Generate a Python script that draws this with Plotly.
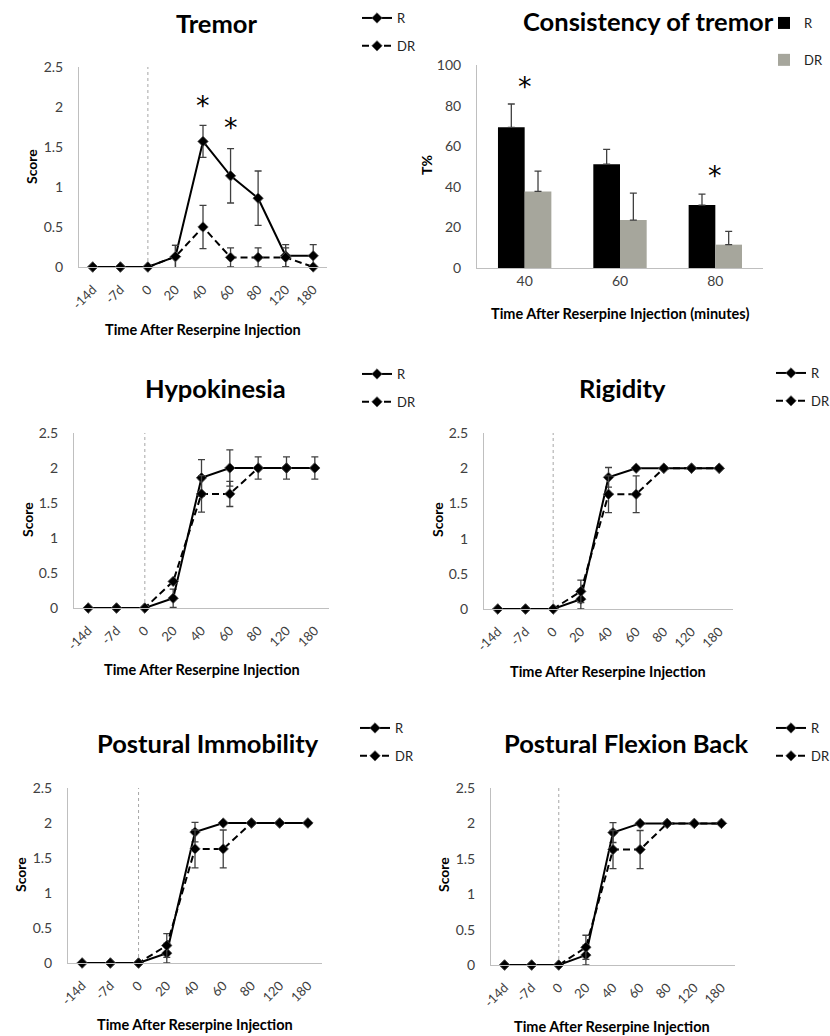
import plotly.graph_objects as go

W, H = 830, 1036
FONT = "Lato"
AXC = "#bfbfbf"
TICKC = "#404040"
ERRC = "#404040"

# ---------------- data ----------------
cats = ["-14d", "-7d", "0", "20", "40", "60", "80", "120", "180"]

tremor_r = [0, 0, 0, 0.13, 1.57, 1.14, 0.86, 0.14, 0.14]
tremor_r_err = [0, 0, 0, 0.14, 0.20, 0.34, 0.34, 0.14, 0.14]
tremor_dr = [0, 0, 0, 0.13, 0.50, 0.12, 0.12, 0.12, 0]
tremor_dr_err = [0, 0, 0, 0.14, 0.27, 0.12, 0.12, 0.12, 0]
tremor_sig_x = ["40", "60"]
tremor_sig_y = [2.07, 1.80]

hypo_r = [0, 0, 0, 0.14, 1.86, 2.0, 2.0, 2.0, 2.0]
hypo_r_err = [0, 0, 0, 0.13, 0.26, 0.26, 0.16, 0.16, 0.16]
hypo_dr = [0, 0, 0, 0.38, 1.63, 1.63, 2.0, 2.0, 2.0]
hypo_dr_err = [0, 0, 0, 0, 0.26, 0.18, 0, 0, 0]

rig_r = [0, 0, 0, 0.14, 1.87, 2.0, 2.0, 2.0, 2.0]
rig_r_err = [0, 0, 0, 0.14, 0.14, 0, 0, 0, 0]
rig_dr = [0, 0, 0, 0.25, 1.63, 1.63, 2.0, 2.0, 2.0]
rig_dr_err = [0, 0, 0, 0.16, 0.26, 0.26, 0, 0, 0]

pim_r = [0, 0, 0, 0.14, 1.87, 2.0, 2.0, 2.0, 2.0]
pim_r_err = [0, 0, 0, 0.14, 0.14, 0, 0, 0, 0]
pim_dr = [0, 0, 0, 0.25, 1.63, 1.63, 2.0, 2.0, 2.0]
pim_dr_err = [0, 0, 0, 0.17, 0.27, 0.27, 0, 0, 0]

pfb_r = [0, 0, 0, 0.14, 1.87, 2.0, 2.0, 2.0, 2.0]
pfb_r_err = [0, 0, 0, 0.14, 0.14, 0, 0, 0, 0]
pfb_dr = [0, 0, 0, 0.25, 1.63, 1.63, 2.0, 2.0, 2.0]
pfb_dr_err = [0, 0, 0, 0.17, 0.27, 0.27, 0, 0, 0]

bar_cats = ["40", "60", "80"]
cons_r = [69.3, 51.1, 31.0]
cons_r_err = [11.5, 7.3, 5.4]
cons_dr = [37.7, 23.6, 11.5]
cons_dr_err = [10.0, 13.3, 6.5]
cons_sig_x = ["40", "80"]
cons_sig_y = [91, 47]

y_ticks = [0, 0.5, 1, 1.5, 2, 2.5]
bar_ticks = [0, 20, 40, 60, 80, 100]
injection_cat = "0"


def fx(p):
    return p / W


def fy(p):
    return 1 - p / H


def axid(n):
    return "" if n == 1 else str(n)


fig = go.Figure()
annotations = []
shapes = []
layout = {}

TITLE_SIZE = 25.5
AXT_SIZE = 14.5

line_panels = [
    dict(n=1, title="Tremor", r=tremor_r, re=tremor_r_err, dr=tremor_dr, de=tremor_dr_err,
         dom=(79, 327, 67, 267), title_xy=(216, 23), leg=(357, 3), gap=8,
         ytitle=(32, 167), xtitle=(203, 330), sig=(tremor_sig_x, tremor_sig_y)),
    dict(n=3, title="Hypokinesia", r=hypo_r, re=hypo_r_err, dr=hypo_dr, de=hypo_dr_err,
         dom=(74, 329, 433, 608), title_xy=(215, 388), leg=(357, 359), gap=8,
         ytitle=(27, 520), xtitle=(202, 669), sig=None),
    dict(n=4, title="Rigidity", r=rig_r, re=rig_r_err, dr=rig_dr, de=rig_dr_err,
         dom=(484, 733, 433, 609), title_xy=(622, 388), leg=(771, 358), gap=8,
         ytitle=(437, 520), xtitle=(608, 671), sig=None),
    dict(n=5, title="Postural Immobility", r=pim_r, re=pim_r_err, dr=pim_dr, de=pim_dr_err,
         dom=(68, 322, 788, 963), title_xy=(208, 743), leg=(355, 713), gap=8,
         ytitle=(20, 875), xtitle=(195, 1024), sig=None),
    dict(n=6, title="Postural Flexion Back", r=pfb_r, re=pfb_r_err, dr=pfb_dr, de=pfb_dr_err,
         dom=(491, 735, 788, 965), title_xy=(626, 743), leg=(771, 713), gap=8,
         ytitle=(443, 875), xtitle=(612, 1026), sig=None),
]

for p in line_panels:
    n = p["n"]
    s = axid(n)
    leg = "legend" + s
    for name, ys, es, dash in [("R", p["r"], p["re"], "solid"), ("DR", p["dr"], p["de"], "7px,4px")]:
        fig.add_trace(go.Scatter(
            x=cats, y=ys, name=name, mode="lines+markers",
            line=dict(color="black", width=2, dash=dash),
            marker=dict(symbol="diamond", size=8, color="black", line=dict(color="#555", width=0.8)),
            error_y=dict(type="data", array=es, color=ERRC, thickness=1.3, width=3.5),
            cliponaxis=False, xaxis="x" + s, yaxis="y" + s,
            legend=leg, legendgroup=f"g{n}{name}", hoverinfo="skip"))
    x0, x1, yt, yb = p["dom"]
    layout["xaxis" + s] = dict(
        domain=[fx(x0), fx(x1)], anchor="y" + s, type="category",
        categoryorder="array", categoryarray=cats, range=[-0.5, 8.5],
        showline=True, linecolor=AXC, linewidth=1, showgrid=False, zeroline=False,
        ticks="", tickangle=-45, ticklabelstandoff=9,
        tickfont=dict(family=FONT, size=13, color=TICKC), fixedrange=True)
    layout["yaxis" + s] = dict(
        domain=[fy(yb), fy(yt)], anchor="x" + s, range=[0, 2.5],
        tickmode="array", tickvals=y_ticks,
        showline=True, linecolor=AXC, linewidth=1, showgrid=False, zeroline=False,
        ticks="", ticklabelstandoff=12, tickfont=dict(family=FONT, size=14, color=TICKC),
        fixedrange=True)
    lx, ly = p["leg"]
    layout[leg] = dict(x=fx(lx), y=fy(ly), xanchor="left", yanchor="top",
                       bgcolor="rgba(0,0,0,0)", tracegroupgap=p["gap"],
                       font=dict(family=FONT, size=13, color="#222"))
    ci = cats.index(injection_cat)
    shapes.append(dict(type="line", xref="x" + s, yref="y" + s, x0=ci, x1=ci, y0=0, y1=2.5,
                       line=dict(color="#a6a6a6", width=1, dash="dot"), layer="below"))
    annotations.append(dict(text="<b>" + p["title"] + "</b>", x=fx(p["title_xy"][0]), y=fy(p["title_xy"][1]),
                            xref="paper", yref="paper", showarrow=False, xanchor="center", yanchor="middle",
                            font=dict(family=FONT, size=TITLE_SIZE, color="black")))
    annotations.append(dict(text="<b>Score</b>", x=fx(p["ytitle"][0]), y=fy(p["ytitle"][1]),
                            xref="paper", yref="paper", showarrow=False, textangle=-90,
                            xanchor="center", yanchor="middle",
                            font=dict(family=FONT, size=14, color="black")))
    annotations.append(dict(text="<b>Time After Reserpine Injection</b>", x=fx(p["xtitle"][0]),
                            y=fy(p["xtitle"][1]), xref="paper", yref="paper", showarrow=False,
                            xanchor="center", yanchor="middle",
                            font=dict(family=FONT, size=AXT_SIZE, color="black")))
    if p["sig"]:
        for sx, sy in zip(*p["sig"]):
            annotations.append(dict(text="*", x=cats.index(sx), y=sy, xref="x" + s, yref="y" + s,
                                    showarrow=False, xanchor="center", yanchor="middle", yshift=-4,
                                    font=dict(family="DejaVu Sans", size=27, color="black")))

# ---------------- bar panel ----------------
for name, ys, es, col in [("R", cons_r, cons_r_err, "black"), ("DR", cons_dr, cons_dr_err, "#a6a69c")]:
    fig.add_trace(go.Bar(
        x=bar_cats, y=ys, name=name, marker=dict(color=col, line=dict(width=0)),
        error_y=dict(type="data", symmetric=False, array=es, arrayminus=[0] * len(es),
                     color=ERRC, thickness=1.3, width=3.5),
        xaxis="x2", yaxis="y2", legend="legend2", legendgroup=f"g2{name}", hoverinfo="skip"))

layout["xaxis2"] = dict(domain=[fx(477), fx(763)], anchor="y2", type="category",
                        categoryorder="array", categoryarray=bar_cats, range=[-0.5, 2.5],
                        showline=True, linecolor=AXC, linewidth=1, showgrid=False, zeroline=False,
                        ticks="", tickfont=dict(family=FONT, size=14, color=TICKC), fixedrange=True)
layout["yaxis2"] = dict(domain=[fy(268), fy(65)], anchor="x2", range=[0, 100],
                        tickmode="array", tickvals=bar_ticks,
                        showline=True, linecolor=AXC, linewidth=1, showgrid=False, zeroline=False,
                        ticks="", ticklabelstandoff=12, tickfont=dict(family=FONT, size=14, color=TICKC),
                        fixedrange=True)
layout["legend2"] = dict(x=fx(764), y=fy(8), xanchor="left", yanchor="top",
                         bgcolor="rgba(0,0,0,0)", tracegroupgap=17,
                         font=dict(family=FONT, size=13, color="#222"))
annotations.append(dict(text="<b>Consistency of tremor</b>", x=fx(648), y=fy(21), xref="paper", yref="paper",
                        showarrow=False, xanchor="center", yanchor="middle",
                        font=dict(family=FONT, size=TITLE_SIZE, color="black")))
annotations.append(dict(text="<b>T%</b>", x=fx(427), y=fy(165), xref="paper", yref="paper",
                        showarrow=False, textangle=-90, xanchor="center", yanchor="middle",
                        font=dict(family=FONT, size=14, color="black")))
annotations.append(dict(text="<b>Time After Reserpine Injection (minutes)</b>", x=fx(620), y=fy(313),
                        xref="paper", yref="paper", showarrow=False, xanchor="center", yanchor="middle",
                        font=dict(family=FONT, size=AXT_SIZE, color="black")))
for sx, sy in zip(cons_sig_x, cons_sig_y):
    annotations.append(dict(text="*", x=bar_cats.index(sx), y=sy, xref="x2", yref="y2", showarrow=False,
                            xanchor="center", yanchor="middle", yshift=-3,
                            font=dict(family="DejaVu Sans", size=27, color="black")))

fig.update_layout(
    width=W, height=H, margin=dict(l=0, r=0, t=0, b=0, autoexpand=False),
    paper_bgcolor="white", plot_bgcolor="white",
    barmode="group", bargap=0.44, bargroupgap=0,
    annotations=annotations, shapes=shapes, showlegend=True,
    font=dict(family=FONT),
    **layout)

fig.write_html("out.html", config={"displayModeBar": False},
               post_script="document.body.style.margin='0px';")
